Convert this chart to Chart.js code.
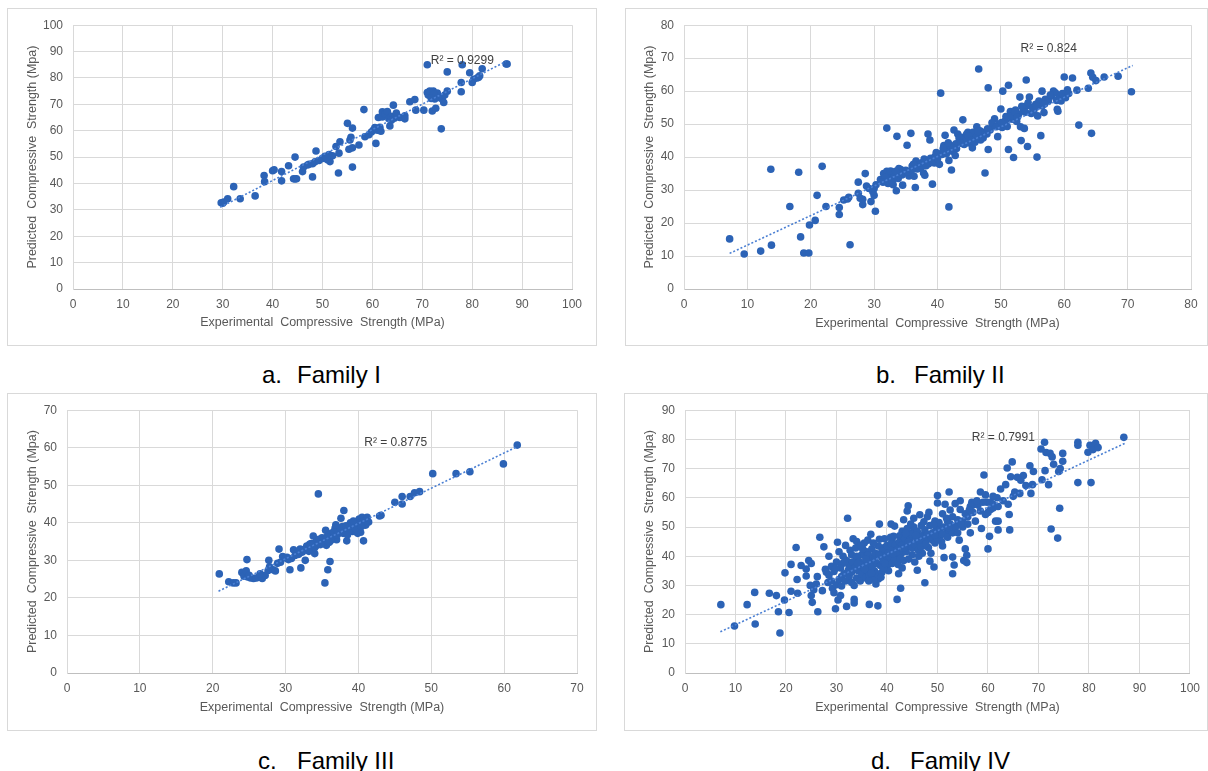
<!DOCTYPE html>
<html>
<head>
<meta charset="utf-8">
<script src="https://cdn.jsdelivr.net/npm/chart.js@4.4.1/dist/chart.umd.min.js"></script>
<style>
  body { margin: 0; background: #fff; width: 1208px; height: 771px; overflow: hidden; position: relative; font-family: "Liberation Sans", Arial, sans-serif; }
  .box { position: absolute; border: 1px solid #d9d9d9; box-sizing: border-box; }
  canvas { position: absolute; }
  .cap { position: absolute; font-size: 24px; color: #000; white-space: nowrap; }
</style>
</head>
<body>
<div class="box" id="boxa"></div><canvas id="ca"></canvas>
<div class="box" id="boxb"></div><canvas id="cb"></canvas>
<div class="box" id="boxc"></div><canvas id="cc"></canvas>
<div class="box" id="boxd"></div><canvas id="cd"></canvas>
<div class="cap" style="left:262px;top:361px">a.</div><div class="cap" style="left:297px;top:361px">Family I</div>
<div class="cap" style="left:876px;top:361px">b.</div><div class="cap" style="left:914px;top:361px">Family II</div>
<div class="cap" style="left:258px;top:747px">c.</div><div class="cap" style="left:297px;top:747px">Family III</div>
<div class="cap" style="left:871px;top:747px">d.</div><div class="cap" style="left:910px;top:747px">Family IV</div>
<script>
// Family I : [experimental, predicted]
const famI = [
  [29.7,32.7],[30,32.5],[30.2,33],[31,34.2],[32.2,38.8],[33.5,34.2],[36.5,35.3],[38.3,43],[38.4,40.7],[40,44.8],
  [40.3,45.2],[41.8,44.5],[41.8,41],[43.2,46.7],[44.2,41.8],[44.5,41.7],[44.5,50],[44.8,41.8],[46,44.5],[46.2,46.2],
  [47.3,47.3],[48,42.5],[48,47.5],[48.5,48.2],[48.7,52.3],[49.3,48.7],[50,49.5],[50.5,50.3],[51,49],[51.3,51],
  [51.5,48.3],[52,50.5],[52.7,54],[53.2,44],[53.3,51.5],[53.5,55.8],[55,62.8],[55.3,53],[55.5,56.5],[55.7,57.5],
  [56,61],[56,46.2],[56,53.5],[57.3,54.6],[58.3,68],[58.5,57.7],[59.3,58.5],[59.8,59.5],[60.2,60.3],[60.5,61.2],
  [60.7,55.2],[61,60.2],[61.2,65],[61.5,61.3],[61.7,59.8],[62,65.2],[62,67.2],[62.5,66.3],[63,67.3],[63.3,64.5],
  [63.5,61.8],[63.8,65.5],[64.2,69.7],[64.4,64.7],[64.8,66.7],[65,65.5],[65.5,65],[66.5,65.7],[66.5,64.5],[67.5,71],
  [68.5,71.8],[68.7,67.8],[70.3,67.8],[71,85],[71,74.5],[71.2,73.5],[71.5,75],[72,73],[72,67.5],[72.2,75],
  [72.5,72],[72.7,68.5],[73,74.3],[73.5,72.5],[73.8,60.7],[74,72],[74.3,70.7],[74.5,73.5],[75,75],[75,82.3],
  [77.8,78.3],[77.8,74.8],[78,85],[79.5,82],[80,78.3],[80.3,79.5],[81,80],[81.3,80.3],[81.5,80.8],[82,83.5],
  [87,85.3],[86.8,85.3],[50.8,49.8],[47,47],[63.8,64],[72.3,73.8],[71.8,72.2]
];
const famITrend = [[29.5,31],[86.7,86.2]];

// Family II
const famII = [
  [7.2,15.2],[9.5,10.6],[12.1,11.5],[13.8,13.3],[13.7,36.3],[16.7,25],[18.1,35.4],[18.4,15.8],[18.9,10.9],[19.7,10.9],
  [19.8,19.4],[20.7,20.8],[21,28.4],[21.8,37.2],[22.4,25],[24.5,24.7],[24.5,22.6],[25.2,27],[25.8,27.3],[26,27.8],
  [26.2,13.4],[27.5,32.4],[27.5,29],[27.8,27.5],[28.2,25.6],[28.2,27.2],[28.6,35],[28.8,31.2],[29.2,30.5],[29.5,26.5],
  [29.8,29.5],[30,28.4],[30.2,23.6],[30.3,31.6],[30,30.5],[31,33.2],[31.5,35],[32,35.7],[32,48.8],[32.2,32],
  [32.4,34.5],[32.8,33.3],[33,31.6],[33.5,29.8],[33.6,46.3],[33.8,33.5],[34,35.5],[34.2,36.2],[34.5,31.5],[34.7,35.2],
  [35,36],[35.2,43.6],[35.5,34.3],[35.8,47.2],[36,37.3],[36.3,34.2],[36.5,30.8],[36.6,38.8],[37,37.6],[37.3,36.7],
  [37.8,35.2],[38,34.5],[38.5,47],[38.6,38],[38.8,45.2],[39,38.9],[39.2,31.8],[39.5,38.2],[40,39.5],[40.3,37.8],
  [40.5,59.4],[40.7,40.8],[41,43.5],[41.2,46.6],[41.5,42.2],[41.8,24.9],[41.8,39],[42.2,36.1],[42.3,41.8],[42.6,48.2],
  [42.8,40.5],[43,42.6],[43.2,47],[43.5,44.8],[43.8,46],[44,51.3],[44.2,43.8],[44.5,45.8],[44.8,47.5],[45,44.3],
  [45.3,46.3],[45.5,42.8],[45.7,45.7],[46,47.3],[46.2,49.2],[46.5,66.7],[46.5,46.5],[46.8,45.2],[47,47.6],[47.5,35.2],
  [47.8,47],[48,61],[48,42.3],[48.3,48.2],[48.7,49.6],[49,51.6],[49.5,46.2],[49.7,50],[50,54.6],[50.2,49],
  [50.3,60],[50.7,51],[51,49.3],[51.2,61.8],[51.2,42.3],[51.5,53.8],[51.8,51.5],[52,39.9],[52.3,54.3],[52.5,50.8],
  [52.8,53],[53,58.2],[53.1,49.2],[53.2,45],[53.5,54],[53.7,48.7],[54,63.4],[54,55.5],[54.2,43.2],[54.5,58.2],
  [54.8,53.2],[55,55],[55.5,56],[55.7,40],[55.8,52.5],[56,57],[56.3,46.5],[56.5,60],[56.5,55.5],[56.8,53.5],
  [57,57.5],[57.5,57],[58,58.5],[58.3,60],[58.6,59.5],[58.9,54.5],[59,53.9],[59.2,58],[59.5,57],[60,64.3],
  [60.2,58],[60.5,60.4],[61.3,64],[62,60.3],[62.3,49.7],[63.8,60.9],[64.2,65.5],[64.3,47.2],[64.5,64.2],[65,63.2],
  [66.3,64.3],[68.5,64.5],[70.6,59.8],
  [31.8,33.8],[32.6,35.8],[33.2,34.2],[33.9,36.5],[34.4,34.6],[35.3,35.5],[36.2,37.8],[36.8,36.4],[37.5,38.3],[38.2,37.4],
  [38.9,39.6],[39.6,40.2],[40.2,41],[40.9,42.6],[41.4,41],[42,43.6],[42.9,44],[43.4,45.8],[44.1,45],[44.6,47],
  [45.1,45.6],[45.6,47.5],[46.1,46],[46.7,48],[47.3,46.8],[47.9,48.6],[48.6,50.4],[49.3,49.2],[50.1,50.5],[50.8,52.3],
  [51.6,52.4],[52.2,53.6],[53.3,55.4],[54.3,56.5],[55.2,54.2],[57.8,58.8],[59.7,59.3],[60.7,59.3],[44.4,44.7],[45.9,44.5],
  [43.7,44.2],[44.9,46.4],[45.4,45],[46.4,47.8],[47.2,45.8],[41.7,44.3],[42.5,42.8],[39.8,41.4],[37.9,39.4],[36,36.2],
  [33.4,35.7],[32.9,32.5],[31.4,32.4],[52.6,52.1],[53.9,53.6],[55.6,55.3],[56.9,56.1],[58.8,57.2]
];
const famIITrend = [[7.2,10.8],[70.8,67.8]];

// Family III
const famIII = [
  [20.9,26.4],[22.2,24.3],[22.8,24],[23.2,24],[24,26.8],[24.3,25.8],[24.6,27.2],[24.7,30.2],[24.8,25.6],[25.2,25.3],
  [25.6,25.2],[26,25.3],[26.3,25.5],[26.8,25.2],[27.2,26],[27.6,27.3],[27.7,30],[27.8,28.3],[28.3,27.5],[28.6,27.2],
  [29.1,33],[29.3,29.5],[29.6,31],[30,30.6],[30.4,30.2],[30.6,27.5],[30.8,30.5],[31.1,32.8],[31.3,31.3],[31.6,32],
  [32,33],[32.1,28],[32.3,32.2],[32.7,30],[32.9,33.8],[33,32.8],[33.3,34.3],[33.6,33.2],[33.8,36.5],[34,31.8],
  [34.2,35],[34.3,34],[34.5,47.7],[34.8,35.3],[35,36],[35.2,35.5],[35.4,24],[35.5,38],[35.6,34],[35.8,27.5],
  [35.9,36.8],[36.1,29.7],[36.3,37.2],[36.6,36],[36.8,38.6],[37,35.5],[37.3,37.8],[37.6,41.2],[37.8,39],[38,43.3],
  [38.2,37.8],[38.4,35.2],[38.6,38.8],[38.9,40],[39.2,37.7],[39.5,39],[39.9,37.2],[40.1,41],[40.3,37.5],[40.5,41.5],
  [40.7,35.2],[40.8,39.5],[41,40.5],[41.2,41.5],[41.4,40.2],[42.9,41.8],[43.1,42],[45,45.5],[46,47],[46,45],
  [47.1,47],[47.7,48],[48.4,48.3],[50.2,53.1],[53.4,53.1],[55.3,53.6],[59.9,55.7],[61.8,60.7],
  [31.8,31.6],[32.5,32.8],[33.5,34.5],[34,33.4],[34.6,35.6],[35.1,34.6],[35.7,36.3],[36.2,35.3],[36.6,37.6],[37.1,36.8],
  [37.5,38.6],[37.9,37.2],[38.3,39.2],[38.7,37.8],[39.1,39.3],[39.6,38.4],[40,40],[40.6,40.4],[41,39.4],[36,34.8],
  [34.8,34.2],[33.2,32.4],[30.2,30.8],[28.9,29.2],[26.5,26.4],[25,26],[36.9,39.5],[38.5,36.8],[39.3,40.5],[40.4,39]
];
const famIIITrend = [[20.8,21.8],[61.8,60.3]];

// Family IV
const famIV = [
  [7.1,23.4],[9.8,16.1],[12.3,23.4],[13.8,27.6],[13.9,16.8],[16.7,27.3],[18.1,26.5],[18.5,21],[18.8,13.7],[19.7,25],
  [19.8,34.3],[20.6,20.7],[21,28],[21,37.2],[22,43],[22.2,32],[22.3,27.3],[23,36.8],[24,35.6],[24,33.2],
  [24.5,38.5],[24.8,30],[25,37.5],[25,26.5],[25.2,24.2],[25.5,28.5],[26,30.5],[26.2,33],[26.3,21],[26.7,46.5],
  [27.2,28.2],[27.5,43.2],[27.8,35.5],[28,34.5],[28.3,31],[28.5,40],[29,36.5],[29.2,29],[29.5,27.5],[29.8,22],
  [30,38],[30.2,44.8],[30.3,25],[30.5,41.5],[30.8,26.5],[31,33],[31.2,37.5],[31.8,43.7],[32,22.8],[32.2,53],
  [32.3,35],[32.7,42],[33,40.5],[33.3,46],[33.5,24],[33.5,25.2],[33.8,38.5],[34,45],[34.5,36],[35,40.5],
  [35.3,33],[35.5,44.5],[36,41.5],[36.2,45.5],[36.5,23.5],[36.8,47.5],[37,39],[37.5,35],[37.8,30.5],[38.2,23],
  [38.3,32.2],[38.5,45.8],[38.5,51],[39,39.5],[39.5,43],[40,36.5],[40.5,41.5],[40.8,51],[41,45.5],[41.5,50.3],
  [42,40],[42,25.2],[42.5,47],[42.7,29],[43,36],[43.3,52.5],[43.5,43],[44,55.5],[44.2,57.3],[44.5,46],
  [45,40.5],[45,48],[45.3,53],[46,45.2],[46,35.2],[46.5,54.2],[47,41],[47.5,30.9],[47.5,48],[48,53.5],
  [48.3,55],[48.5,38.3],[49,45.5],[49.3,36.3],[49.5,52],[50,60.8],[50,58.2],[50.5,47.2],[51,43.5],[51,54.5],
  [51.3,39.5],[51.5,57.8],[52,52],[52,48.5],[52.3,62],[52.5,55.8],[53,39.7],[53,34],[53.3,37],[53.5,58],
  [53.8,50.5],[54.3,45.5],[54.5,59],[55,52],[55.2,38.5],[55.5,42.5],[55.8,37.8],[55.8,40.3],[56,53.5],[56.5,48],
  [56.8,58.5],[57,57.5],[58.5,62],[58.7,49.5],[59.2,67.8],[59.5,54.3],[59.8,58.5],[60,42.5],[60.3,46.8],[60.5,56],
  [61,56.5],[61.5,52],[61.8,60],[62,49],[62,52],[62.5,63],[63.5,64.5],[63.8,70.2],[64,57.8],[64.2,54.3],
  [64.3,49],[64.5,67.2],[64.8,72.3],[65,60.5],[65.3,62],[66.3,61.5],[66.5,66],[67,67.6],[67.5,64.2],[68.3,71],
  [68.5,61.5],[68.8,64.5],[69,69],[70.5,76.7],[70.7,66.2],[71.2,79],[71.3,69.3],[71.5,75.5],[72,64.5],[72.3,75.2],
  [72.5,49.3],[72.7,74],[73,71.5],[73.8,46.2],[74,69],[74.2,56.4],[74.3,70],[74.8,75.2],[74.8,72.5],[77.8,79],
  [77.8,78],[77.8,65.2],[79.8,75.6],[80.2,78],[80.4,65.2],[80.8,76.5],[81.3,78.7],[81.8,77.2],[86.9,80.7],
  [28.5,33.5],[29,31.5],[29.5,34.8],[30,30.2],[30.5,32],[30.8,36],[31,29.8],[31.5,34],[31.8,31.5],[32,38.5],
  [32.5,33],[32.5,36.5],[33,31],[33,34.5],[33.2,38],[33.5,30],[33.7,36],[34,32.5],[34,40],[34.3,35],
  [34.5,38.2],[34.7,31.5],[35,34],[35,37.2],[35.2,42.5],[35.5,36.3],[35.8,32.5],[36,38.5],[36,35],[36.3,40.5],
  [36.5,33.5],[36.7,37],[37,42.5],[37,36.2],[37.3,39.7],[37.5,32],[37.7,41],[38,37.5],[38,34],[38.3,43.5],
  [38.7,36.8],[39,41.8],[39,34.5],[39.3,38.3],[39.5,46],[39.8,40.3],[40,38.5],[40,43.7],[40.3,35],[40.5,39.8],
  [40.8,44.2],[41,37.5],[41,42],[41.3,46.8],[41.5,39],[41.7,44],[42,42.3],[42.2,37.2],[42.5,45],[42.8,40.8],
  [43,48.5],[43,44],[43.3,38.5],[43.5,46],[43.8,41.5],[44,49.5],[44,43.5],[44.3,39],[44.5,45.5],[44.8,47.5],
  [45,42.8],[45.3,50],[45.5,44],[45.8,46.5],[46,48.5],[46.2,42],[46.5,45],[46.8,50.5],[47,47],[47.2,43.5],
  [47.5,49],[47.8,45.8],[48,47.5],[48.2,43],[48.5,50.5],[48.8,46.5],[49,48],[49.5,44.5],[49.8,49.5],[50,46],
  [50.3,51.5],[50.5,49],[51,47.5],[51.2,50],[51.8,53],[52,46.5],[52.5,51],[53,48],[53,53.5],[53.5,50],
  [54,52.5],[54,48],[54.5,56],[55,50],[55.5,54.5],[56,51],[56.5,57],[57,55],[57.5,52],[58,57.5],
  [58.5,55.5],[59,58.5],[59.5,61],[60,55],[60.5,58.5],[61,57.8],[61,60.5],[62,57],[63,59],[65.8,67],
  [31.3,40],[33.8,42.8],[35.8,39],[37.3,44.5],[39.3,36],[41.8,41],[43.7,47.8],[45.5,38],[47.3,51.8],[49.2,50.8],
  [29.8,35.8],[31.6,38],[34.8,43.7],[36.4,31.5],[38.8,32.8],[40.7,46.5],[42.3,34],[44.7,51],[46.3,40],[48.7,41],
  [34.2,37.5],[35.6,35.5],[36.9,34.2],[37.6,38.6],[38.4,40.5],[39.6,37.5],[40.2,41],[41.2,40.8],[42.6,39.2],[43.4,42.8],
  [44.2,44.8],[45.7,47.2],[46.7,43.2],[47.7,44.2],[49.5,47.3],[50.8,45],[52.2,49.8],[54.7,51.2],[56.3,55.8],[57.8,59]
];
const famIVTrend = [[7,14.1],[87.4,78.9]];

const r2Text = ['R² = 0.9299', 'R² = 0.824', 'R² = 0.8775', 'R² = 0.7991'];
const r2Pos = [[71.7,86.4],[53.1,72.8],[40.8,61.3],[56.8,80.7]];
const xMaxes = [100, 80, 70, 100];
const yMaxes = [100, 80, 70, 90];
const xTitle = 'Experimental  Compressive  Strength (MPa)';
const yTitle = 'Predicted  Compressive  Strength (Mpa)';

// layout in page pixels: box, plot area, title centres
const panels = [
  { id: 'a', box: [7, 8, 590, 338], area: [73, 23, 572, 289], yt: 33, xt: 323 },
  { id: 'b', box: [625, 8, 583, 338], area: [684, 23, 1191, 289], yt: 650, xt: 324 },
  { id: 'c', box: [7, 393, 590, 338], area: [67, 408, 577, 673], yt: 33, xt: 708 },
  { id: 'd', box: [624, 393, 584, 338], area: [685, 408, 1191, 673], yt: 650, xt: 708 }
];
const allPts = [famI, famII, famIII, famIV];
const allTrend = [famITrend, famIITrend, famIIITrend, famIVTrend];

const fnt = '"Liberation Sans", Arial, sans-serif';
const r2Plugin = {
  id: 'r2label',
  afterDatasetsDraw(chart, args, opts) {
    const c = chart.ctx;
    c.save();
    c.font = '12px ' + fnt;
    c.fillStyle = '#404040';
    c.textBaseline = 'middle';
    c.fillText(opts.text, chart.scales.x.getPixelForValue(opts.at[0]), chart.scales.y.getPixelForValue(opts.at[1]));
    c.restore();
  }
};

panels.forEach((p, i) => {
  const [bl, bt, bw, bh] = p.box;
  const [al, at, ar, ab] = p.area;
  const bx = document.getElementById('box' + p.id);
  bx.style.left = bl + 'px'; bx.style.top = bt + 'px';
  bx.style.width = bw + 'px'; bx.style.height = bh + 'px';
  const cv = document.getElementById('c' + p.id);
  cv.width = bw; cv.height = bh;
  cv.style.left = bl + 'px'; cv.style.top = bt + 'px';
  cv.style.width = bw + 'px'; cv.style.height = bh + 'px';

  const off = 4 + 7.5;
  const padLeft = p.yt - off - bl;
  const yW = al - bl - padLeft;
  const scaleBottom = p.xt + off;
  const xH = scaleBottom - ab;

  new Chart(cv, {
    type: 'scatter',
    data: {
      datasets: [
        {
          data: allTrend[i].map(d => ({ x: d[0], y: d[1] })),
          showLine: true, borderColor: '#4a7fd3', borderWidth: 1.6, borderDash: [2, 2],
          pointRadius: 0, fill: false
        },
        {
          data: allPts[i].map(d => ({ x: d[0], y: d[1] })),
          backgroundColor: '#2c63b6', borderWidth: 0, pointRadius: 3.8
        }
      ]
    },
    options: {
      responsive: false, animation: false, devicePixelRatio: 1,
      layout: { padding: { left: padLeft, top: at - bt, right: bl + bw - ar, bottom: bt + bh - scaleBottom } },
      plugins: { legend: { display: false }, tooltip: { enabled: false }, r2label: { text: r2Text[i], at: r2Pos[i] } },
      scales: {
        x: {
          type: 'linear', min: 0, max: xMaxes[i],
          ticks: { stepSize: 10, padding: 8, color: '#595959', font: { size: 12, family: fnt } },
          grid: { color: '#d9d9d9', drawTicks: false },
          border: { color: '#bfbfbf' },
          title: { display: true, text: xTitle, color: '#595959', font: { size: 12.5, family: fnt } },
          afterFit: s => { s.height = xH; }
        },
        y: {
          type: 'linear', min: 0, max: yMaxes[i],
          ticks: { stepSize: 10, padding: 10, color: '#595959', font: { size: 12, family: fnt } },
          grid: { color: '#d9d9d9', drawTicks: false },
          border: { color: '#d9d9d9' },
          title: { display: true, text: yTitle, color: '#595959', font: { size: 12.5, family: fnt } },
          afterFit: s => { s.width = yW; }
        }
      }
    },
    plugins: [r2Plugin]
  });
});
</script>
</body>
</html>
